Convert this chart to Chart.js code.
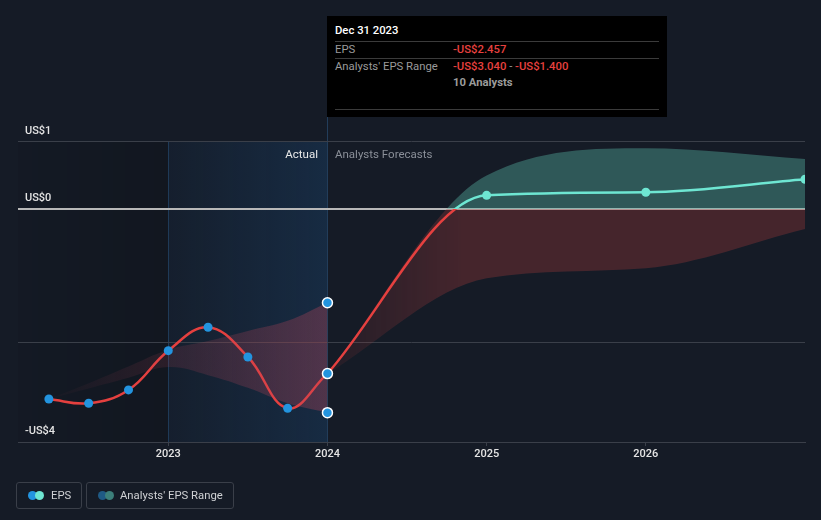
<!DOCTYPE html>
<html>
<head>
<meta charset="utf-8">
<title>EPS vs Analysts Forecasts</title>
<script src="https://cdn.jsdelivr.net/npm/chart.js@4.4.1/dist/chart.umd.min.js"></script>
<style>
    html, body { margin: 0; padding: 0; width: 821px; height: 520px; overflow: hidden; background: #151b26; font-family: Roboto, "Noto Sans", sans-serif; }
    #wrap { position: relative; width: 821px; height: 520px; }
    #chart { position: absolute; left: 0; top: 0; }
    .tip { position: absolute; left: 327px; top: 16px; width: 340px; height: 101px; background: #000; }
    .tip div { position: absolute; font-size: 11.3px; line-height: 14px; white-space: nowrap; }
    .tip .rule { height: 1px; background: #3b3b3b; left: 8px; width: 324px; }
    .red { color: #e8413f; font-weight: 500; }
    .grey { color: #9b9b9b; }
    .lbl { position: absolute; font-size: 11.5px; line-height: 14px; top: 147px; white-space: nowrap; }
    .legend { position: absolute; top: 482px; height: 27px; border: 1px solid #3a3f49; border-radius: 3px; box-sizing: border-box; }
    .legend span.t { position: absolute; top: 5px; font-size: 11.3px; line-height: 15px; color: #cfd1d4; white-space: nowrap; }
    .dot { position: absolute; top: 8px; width: 9px; height: 9px; border-radius: 50%; }
</style>
</head>
<body>
<div id="wrap">
    <canvas id="chart" width="821" height="520"></canvas>

    <div class="lbl" style="right:503px; color:#e9e9e9;">Actual</div>
    <div class="lbl" style="left:335px; color:#8a8f98;">Analysts Forecasts</div>

    <div class="tip">
        <div style="left:8px; top:8px; color:#fff; font-weight:500;">Dec 31 2023</div>
        <div class="rule" style="top:25px;"></div>
        <div class="grey" style="left:8px; top:27px;">EPS</div>
        <div class="red" style="left:126px; top:27px;">-US$2.457</div>
        <div class="rule" style="top:42px;"></div>
        <div class="grey" style="left:8px; top:44px;">Analysts' EPS Range</div>
        <div style="left:126px; top:44px;"><span class="red">-US$3.040</span><span class="grey"> - </span><span class="red">-US$1.400</span></div>
        <div class="grey" style="left:126px; top:60px; font-weight:bold;">10 Analysts</div>
        <div class="rule" style="top:93px;"></div>
    </div>

    <div class="legend" style="left:16px; width:66px;">
        <div class="dot" style="left:11px; background:#2394df;"></div>
        <div class="dot" style="left:18px; background:#6ee6d2;"></div>
        <span class="t" style="left:34px;">EPS</span>
    </div>
    <div class="legend" style="left:86px; width:148px;">
        <div class="dot" style="left:11px; background:#1f5a85;"></div>
        <div class="dot" style="left:18px; background:#3c7f7a;"></div>
        <span class="t" style="left:33px;">Analysts' EPS Range</span>
    </div>
</div>
<script>
    // quarterly reported EPS (x = fractional year of quarter end)
    const actualDates = [2022.25, 2022.5, 2022.75, 2023, 2023.25, 2023.5, 2023.75, 2024];
    const actualEps = [-2.836, -2.900, -2.701, -2.115, -1.766, -2.209, -2.975, -2.457];
    const pastRangeHigh = [-2.836, -2.60, -2.35, -2.10, -1.97, -1.82, -1.67, -1.40];
    const pastRangeLow = [-2.836, -2.68, -2.52, -2.36, -2.48, -2.67, -2.90, -3.04];

    // analyst forecasts
    const forecastDates = [2024, 2025, 2026, 2027];
    const forecastEps = [-2.457, 0.204, 0.249, 0.443];
    const forecastHigh = [-2.457, 0.50, 0.906, 0.746];
    const forecastLow = [-2.457, -1.034, -0.885, -0.30];

    const yearTicks = [2023, 2024, 2025, 2026];
    const yTickValues = [-3.478, -2, 0, 1];
    const yTickLabels = ['-US$4', '', 'US$0', 'US$1'];
    const highlightFrom = 2023, highlightTo = 2024;

    const RED = '#e5403f', TEAL = '#6ee6d2', BLUE = '#2394df';

    Chart.defaults.font.family = 'Roboto, "Noto Sans", sans-serif';

    function pts(xs, ys) {
        return xs.map((x, i) => ({ x: x, y: ys[i] }));
    }

    const shading = {
        id: 'shading',
        beforeDraw(chart) {
            const { ctx, chartArea: a, scales: { x, y } } = chart;
            const x0 = x.getPixelForValue(highlightFrom);
            const x1 = x.getPixelForValue(highlightTo);
            const top = y.getPixelForValue(1);
            ctx.save();
            let g = ctx.createLinearGradient(a.left, 0, x0, 0);
            g.addColorStop(0, 'rgba(0,0,0,0.04)');
            g.addColorStop(1, 'rgba(0,0,0,0.14)');
            ctx.fillStyle = g;
            ctx.fillRect(a.left, top, x0 - a.left, a.bottom - top);
            g = ctx.createLinearGradient(x0, 0, x1, 0);
            g.addColorStop(0, 'rgba(30,90,150,0.07)');
            g.addColorStop(1, 'rgba(30,90,150,0.26)');
            ctx.fillStyle = g;
            ctx.fillRect(x0, top, x1 - x0, a.bottom - top);
            ctx.lineWidth = 1;
            ctx.strokeStyle = 'rgba(45,95,145,0.45)';
            ctx.beginPath();
            ctx.moveTo(Math.round(x0) + 0.5, top);
            ctx.lineTo(Math.round(x0) + 0.5, a.bottom);
            ctx.stroke();
            ctx.strokeStyle = '#223d5a';
            ctx.beginPath();
            ctx.moveTo(Math.round(x1) + 0.5, a.top - 1);
            ctx.lineTo(Math.round(x1) + 0.5, a.bottom);
            ctx.stroke();
            ctx.restore();
        }
    };

    let fillCache = null;
    function forecastFill(context) {
        const chart = context.chart;
        const a = chart.chartArea;
        if (!a) return 'transparent';
        const key = [a.left, a.top, a.right, a.bottom].join();
        if (fillCache && fillCache.key === key) return fillCache.pattern;
        const { x, y } = chart.scales;
        const off = document.createElement('canvas');
        off.width = chart.width;
        off.height = chart.height;
        const c = off.getContext('2d');
        const zy = y.getPixelForValue(0);
        c.fillStyle = 'rgba(88,180,165,0.40)';
        c.fillRect(0, 0, off.width, zy);
        c.fillStyle = 'rgba(172,58,58,0.32)';
        c.fillRect(0, zy, off.width, off.height - zy);
        c.globalCompositeOperation = 'destination-in';
        const g = c.createLinearGradient(x.getPixelForValue(2024), 0, x.getPixelForValue(2024.85), 0);
        g.addColorStop(0, 'rgba(0,0,0,0.3)');
        g.addColorStop(1, 'rgba(0,0,0,1)');
        c.fillStyle = g;
        c.fillRect(0, 0, off.width, off.height);
        const pattern = chart.ctx.createPattern(off, 'no-repeat');
        fillCache = { key: key, pattern: pattern };
        return pattern;
    }

    function forecastStroke(context) {
        const chart = context.chart;
        const a = chart.chartArea;
        if (!a) return RED;
        const zy = chart.scales.y.getPixelForValue(0);
        const f = Math.min(1, Math.max(0, (zy - a.top) / (a.bottom - a.top)));
        const g = chart.ctx.createLinearGradient(0, a.top, 0, a.bottom);
        g.addColorStop(0, TEAL);
        g.addColorStop(f, TEAL);
        g.addColorStop(f, RED);
        g.addColorStop(1, RED);
        return g;
    }

    function pastFill(context) {
        const chart = context.chart;
        const a = chart.chartArea;
        if (!a) return 'transparent';
        const x = chart.scales.x;
        const g = chart.ctx.createLinearGradient(x.getPixelForValue(actualDates[0]), 0, x.getPixelForValue(highlightTo), 0);
        g.addColorStop(0, 'rgba(190,70,90,0.02)');
        g.addColorStop(0.5, 'rgba(190,70,90,0.17)');
        g.addColorStop(1, 'rgba(190,70,90,0.34)');
        return g;
    }

    const lastIdx = actualDates.length - 1;
    const onlyLast = (r) => (ctx) => ctx.dataIndex === lastIdx ? r : 0;

    new Chart(document.getElementById('chart'), {
        type: 'line',
        data: {
            datasets: [
                {
                    label: 'EPS points',
                    data: pts(actualDates, actualEps),
                    showLine: false,
                    pointRadius: (ctx) => ctx.dataIndex === lastIdx ? 5 : 4.5,
                    pointBackgroundColor: BLUE,
                    pointBorderColor: '#ffffff',
                    pointBorderWidth: (ctx) => ctx.dataIndex === lastIdx ? 1.5 : 0,
                    order: 0
                },
                {
                    label: 'Range high',
                    data: pts(actualDates, pastRangeHigh),
                    borderWidth: 0,
                    borderColor: 'transparent',
                    backgroundColor: pastFill,
                    fill: '+1',
                    tension: 0.4,
                    pointRadius: onlyLast(5),
                    pointBackgroundColor: BLUE,
                    pointBorderColor: '#ffffff',
                    pointBorderWidth: 1.5,
                    order: 5
                },
                {
                    label: 'Range low',
                    data: pts(actualDates, pastRangeLow),
                    borderWidth: 0,
                    borderColor: 'transparent',
                    fill: false,
                    tension: 0.4,
                    pointRadius: onlyLast(5),
                    pointBackgroundColor: BLUE,
                    pointBorderColor: '#ffffff',
                    pointBorderWidth: 1.5,
                    order: 4
                },
                {
                    label: 'EPS',
                    data: pts(actualDates, actualEps),
                    borderColor: RED,
                    borderWidth: 2.5,
                    tension: 0.4,
                    pointRadius: 0,
                    fill: false,
                    order: 6
                },
                {
                    label: 'EPS forecast',
                    data: pts(forecastDates, forecastEps),
                    borderColor: forecastStroke,
                    borderWidth: 2.5,
                    cubicInterpolationMode: 'monotone',
                    pointRadius: (ctx) => ctx.dataIndex === 0 ? 0 : 4.5,
                    pointBackgroundColor: TEAL,
                    pointBorderWidth: 0,
                    fill: false,
                    clip: 0,
                    order: 7
                },
                {
                    label: 'Forecast high',
                    data: pts(forecastDates, forecastHigh),
                    borderWidth: 0,
                    borderColor: 'transparent',
                    backgroundColor: forecastFill,
                    fill: '+1',
                    cubicInterpolationMode: 'monotone',
                    pointRadius: 0,
                    clip: 0,
                    order: 9
                },
                {
                    label: 'Forecast low',
                    data: pts(forecastDates, forecastLow),
                    borderWidth: 0,
                    borderColor: 'transparent',
                    fill: false,
                    cubicInterpolationMode: 'monotone',
                    pointRadius: 0,
                    clip: 0,
                    order: 8
                }
            ]
        },
        options: {
            responsive: false,
            animation: false,
            events: [],
            layout: { padding: { left: 4, right: 16, top: 118, bottom: 56.8 } },
            plugins: {
                legend: { display: false },
                tooltip: { enabled: false }
            },
            scales: {
                x: {
                    type: 'linear',
                    min: 2022.056,
                    max: 2027.0,
                    afterBuildTicks: (axis) => { axis.ticks = yearTicks.map(v => ({ value: v })); },
                    grid: { drawOnChartArea: false, drawTicks: true, tickLength: 4, color: '#3a3f49' },
                    border: { display: true, color: '#3a3f49' },
                    ticks: {
                        padding: 2,
                        color: '#e4e4e4',
                        autoSkip: false,
                        maxRotation: 0,
                        font: { size: 11, weight: 500 },
                        callback: (v) => String(v)
                    }
                },
                y: {
                    min: yTickValues[0],
                    max: 1.358,
                    afterBuildTicks: (axis) => { axis.ticks = yTickValues.map(v => ({ value: v })); },
                    border: { display: false },
                    grid: {
                        drawTicks: false,
                        color: (c) => c.tick && c.tick.value === 0 ? '#b8b8b8' : '#3a3f49',
                        lineWidth: (c) => c.tick && c.tick.value === 0 ? 2 : 1
                    },
                    ticks: {
                        mirror: true,
                        padding: 7,
                        labelOffset: -11,
                        color: '#e4e4e4',
                        font: { size: 11, weight: 500 },
                        callback: (v, i) => yTickLabels[i]
                    }
                }
            }
        },
        plugins: [shading]
    });
</script>
</body>
</html>
